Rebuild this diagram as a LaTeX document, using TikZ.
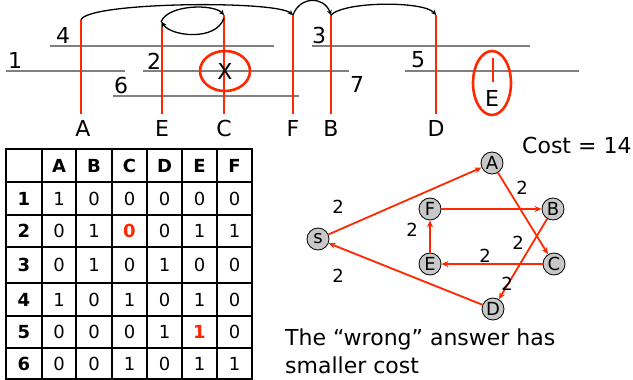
\documentclass[tikz,border=0pt]{standalone}
\usepackage{fontspec}
\setmainfont{DejaVu Sans}
\usetikzlibrary{arrows.meta}
\definecolor{myred}{RGB}{255,40,0}
\definecolor{nodegray}{RGB}{200,200,200}
\definecolor{segray}{RGB}{128,128,128}
\newcommand\mytabrow[8]{%
  \node[cell,font=\tabfont\bfseries] (r#1c0) at (24,#2) {#1};
  \node[cell] (r#1c1) at (59,#2) {#3};
  \node[cell] (r#1c2) at (94,#2) {#4};
  \node[cell] (r#1c3) at (129.5,#2) {#5};
  \node[cell] (r#1c4) at (164.5,#2) {#6};
  \node[cell] (r#1c5) at (199.5,#2) {#7};
  \node[cell] (r#1c6) at (234.5,#2) {#8};
}
\newcommand\tabfont{\fontsize{18}{20}\selectfont}
\newcommand\bigfont{\fontsize{22}{24}\selectfont}
\newcommand\gfont{\fontsize{18}{20}\selectfont}
\begin{document}
\begin{tikzpicture}[x=1pt,y=-1pt,
  seg/.style={draw=segray,line width=1.5pt},
  lab/.style={font=\bigfont,inner sep=0pt},
  redv/.style={draw=myred,line width=2.6pt},
  jump/.style={draw=black,line width=1.3pt,-{Stealth[length=5pt,width=5pt]}},
  cell/.style={font=\tabfont,inner sep=0pt},
  gnode/.style={circle,draw=black,line width=0.8pt,fill=nodegray,minimum size=22pt,inner sep=0pt,font=\gfont},
  gedge/.style={draw=myred,line width=1.8pt,-{Stealth[length=7pt,width=6pt]}},
  wlab/.style={font=\gfont,inner sep=0pt}]
\useasboundingbox (0,0) rectangle (633,380);
% segments
\draw[seg] (50,46) -- (274,46);
\draw[seg] (6,71) -- (125,71);
\draw[seg] (143,71) -- (349,71);
\draw[seg] (113,96) -- (299,96);
\draw[seg] (312,46) -- (530,46);
\draw[seg] (405,71) -- (579,71);
\node[lab] (n4) at (63,35) {4};
\node[lab] (n1) at (15,60) {1};
\node[lab] (n2) at (154,61) {2};
\node[lab] (n6) at (121,85) {6};
\node[lab] (n3) at (319,35) {3};
\node[lab] (n7) at (357,84) {7};
\node[lab] (n5) at (418,60) {5};
% red verticals
\coordinate (At) at (81,20); \coordinate (Ab) at (81,114);
\coordinate (Et) at (162,22); \coordinate (Eb) at (162,114);
\coordinate (Ct) at (224,15); \coordinate (Cb) at (224,114);
\coordinate (Ft) at (293,15); \coordinate (Fb) at (293,114);
\coordinate (Bt) at (331,15); \coordinate (Bb) at (331,114);
\coordinate (Dt) at (436,15); \coordinate (Db) at (436,114);
\coordinate (et) at (493,58); \coordinate (eb) at (493,82);
\draw[redv] (At) -- (Ab);
\draw[redv] (Et) -- (Eb);
\draw[redv] (Ct) -- (Cb);
\draw[redv] (Ft) -- (Fb);
\draw[redv] (Bt) -- (Bb);
\draw[redv] (Dt) -- (Db);
\draw[redv,line width=2pt] (et) -- (eb);
\node[lab] (lA) at (83,128) {A};
\node[lab] (lE) at (162,128) {E};
\node[lab] (lC) at (224,128) {C};
\node[lab] (lF) at (293,128) {F};
\node[lab] (lB) at (331,128) {B};
\node[lab] (lD) at (436,128) {D};
\node[lab] (le) at (492,98) {E};
\node[lab] (X) at (225,71) {X};
\draw[redv] (225,71) ellipse [x radius=25, y radius=20];
\draw[redv] (492,83) ellipse [x radius=19, y radius=32];
% jumps
\draw[jump] (At) .. controls (86,2) and (275,0) .. (Ft);
\draw[jump] (Ft) .. controls (300,-4) and (324,-4) .. (Bt);
\draw[jump] (Bt) .. controls (345,1) and (424,1) .. (Dt);
\draw[jump] (161,22) .. controls (168,4) and (214,4) .. (Ct);
\draw[jump] (224,18) .. controls (216,42) and (170,36) .. (Et);
% table
\draw[line width=1.2pt] \foreach \x in {42,76,112,147,182,217} {(\x,149) -- (\x,380)};
\draw[line width=1.2pt] \foreach \y in {182,215,247,283,316,348} {(6,\y) -- (252,\y)};
\draw[line width=2pt] (6,380) -- (6,149) -- (252,149) -- (252,380);
\draw[line width=2pt] (6,379) -- (252,379);
\node[cell,font=\tabfont\bfseries] (hA) at (59,165.5) {A};
\node[cell,font=\tabfont\bfseries] (hB) at (94,165.5) {B};
\node[cell,font=\tabfont\bfseries] (hC) at (129.5,165.5) {C};
\node[cell,font=\tabfont\bfseries] (hD) at (164.5,165.5) {D};
\node[cell,font=\tabfont\bfseries] (hE) at (199.5,165.5) {E};
\node[cell,font=\tabfont\bfseries] (hF) at (234.5,165.5) {F};
\mytabrow{1}{198.5}{1}{0}{0}{0}{0}{0}
\mytabrow{2}{231}{0}{1}{\textcolor{myred}{\bfseries 0}}{0}{1}{1}
\mytabrow{3}{265}{0}{1}{0}{1}{0}{0}
\mytabrow{4}{299.5}{1}{0}{1}{0}{1}{0}
\mytabrow{5}{332}{0}{0}{0}{1}{\textcolor{myred}{\bfseries 1}}{0}
\mytabrow{6}{364}{0}{0}{1}{0}{1}{1}
% graph
\node[gnode] (s) at (318,239) {s};
\node[gnode] (A) at (492,163) {A};
\node[gnode] (B) at (553,209) {B};
\node[gnode] (C) at (554,264) {C};
\node[gnode] (D) at (493,309) {D};
\node[gnode] (E) at (430,264) {E};
\node[gnode] (F) at (430,209) {F};
\draw[gedge] (s) -- (A);
\draw[gedge] (A) -- (C);
\draw[gedge] (F) -- (B);
\draw[gedge] (B) -- (D);
\draw[gedge] (C) -- (E);
\draw[gedge] (E) -- (F);
\draw[gedge] (D) -- (s);
\node[wlab] (w1) at (338,207) {2};
\node[wlab] (w2) at (522,188) {2};
\node[wlab] (w3) at (412,230) {2};
\node[wlab] (w4) at (485,256) {2};
\node[wlab] (w5) at (518,243) {2};
\node[wlab] (w6) at (507,284) {2};
\node[wlab] (w7) at (338,276) {2};
\node[lab,anchor=west] (cost) at (522,145) {Cost = 14};
\node[lab,anchor=west] (t1) at (285,339) {The “wrong” answer has};
\node[lab,anchor=west] (t2) at (285,365) {smaller cost};
\end{tikzpicture}
\end{document}
